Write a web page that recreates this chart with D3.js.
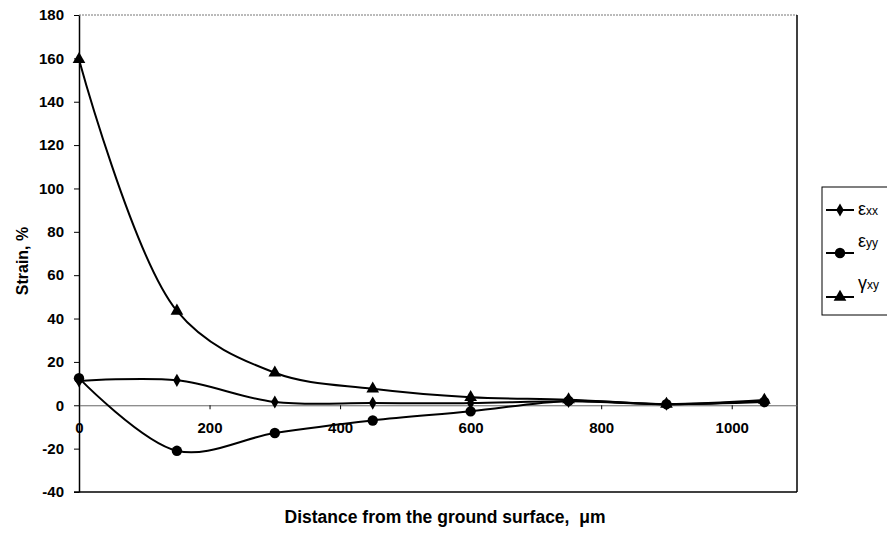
<!DOCTYPE html>
<html>
<head>
<meta charset="utf-8">
<script src="https://cdn.jsdelivr.net/npm/d3@7"></script>
<style>
  body { margin: 0; background: #fff; }
  text { font-family: Arial, "Liberation Sans", sans-serif; }
</style>
</head>
<body>
<svg id="chart"></svg>
<script>
// distances (um) and strains (%)
var distance = [0, 150, 300, 450, 600, 750, 900, 1050];
var exx = [11.2, 11.5, 1.5, 1.0, 1.0, 1.8, 0.5, 2.0];
var eyy = [12.5, -21, -12.8, -7, -2.8, 2.0, 0.5, 1.5];
var gxy = [159.5, 43.5, 15, 7.6, 3.7, 2.6, 0.5, 2.4];
var xTicks = [0, 200, 400, 600, 800, 1000];
var yTicks = [-40, -20, 0, 20, 40, 60, 80, 100, 120, 140, 160, 180];

var width = 887;
var height = 534;
var plotL = 79, plotR = 797, plotT = 15, plotB = 492;

var xs = d3.scaleLinear().domain([0, 1100]).range([plotL, plotR]);
var ys = d3.scaleLinear().domain([-40, 180]).range([plotB, plotT]);

var svg = d3.select('#chart').attr('width', width).attr('height', height);

// plot frame
svg.append('line').attr('x1', plotL).attr('x2', plotR).attr('y1', plotT).attr('y2', plotT)
    .attr('stroke', '#777').attr('stroke-width', 1).attr('stroke-dasharray', '2,1');
svg.append('line').attr('x1', plotR).attr('x2', plotR).attr('y1', plotT).attr('y2', plotB)
    .attr('stroke', '#000').attr('stroke-width', 1.5);
svg.append('line').attr('x1', plotL - 5).attr('x2', plotR).attr('y1', plotB).attr('y2', plotB)
    .attr('stroke', '#000').attr('stroke-width', 1.5);

// y axis
var yAxis = svg.append('g')
    .attr('transform', 'translate(' + plotL + ',0)')
    .call(d3.axisLeft(ys).tickValues(yTicks).tickFormat(function (d) { return String(d); })
        .tickSize(5).tickPadding(10).tickSizeOuter(0));
yAxis.select('.domain').attr('stroke-width', 1.5);
yAxis.selectAll('text').style('font-size', '15px').style('font-weight', 'bold')
    .attr('fill', '#000').attr('font-family', 'Arial, "Liberation Sans", sans-serif');

// x axis on zero line
var xAxis = svg.append('g')
    .attr('transform', 'translate(0,' + ys(0) + ')')
    .call(d3.axisBottom(xs).tickValues(xTicks).tickFormat(d3.format('d'))
        .tickSize(4).tickPadding(13).tickSizeOuter(0));
xAxis.select('.domain').attr('stroke', '#666').attr('stroke-width', 1);
xAxis.selectAll('text').style('font-size', '15px').style('font-weight', 'bold')
    .attr('fill', '#000').attr('font-family', 'Arial, "Liberation Sans", sans-serif');

// axis titles
svg.append('text')
    .attr('text-anchor', 'middle')
    .attr('transform', 'translate(28,261) rotate(-90)')
    .style('font-size', '16px').style('font-weight', 'bold')
    .text('Strain, %');

svg.append('text')
    .attr('text-anchor', 'middle')
    .attr('x', 445)
    .attr('y', 523)
    .style('font-size', '17.5px').style('font-weight', 'bold')
    .text('Distance from the ground surface,\u00a0 \u03bcm');

// series
var series = [
    { name: 'xx', sym: '\u03b5', values: exx, marker: d3.symbolDiamond, size: 50 },
    { name: 'yy', sym: '\u03b5', values: eyy, marker: d3.symbolCircle, size: 85 },
    { name: 'xy', sym: '\u03b3', values: gxy, marker: d3.symbolTriangle, size: 70 }
];

var line = d3.line()
    .x(function (d) { return xs(d[0]); })
    .y(function (d) { return ys(d[1]); })
    .curve(d3.curveCatmullRom.alpha(0.5));

series.forEach(function (s) {
    var pts = distance.map(function (x, i) { return [x, s.values[i]]; });
    svg.append('path')
        .attr('d', line(pts))
        .attr('fill', 'none')
        .attr('stroke', '#000')
        .attr('stroke-width', 2);
    svg.append('g').selectAll('path').data(pts)
        .enter()
        .append('path')
        .attr('d', d3.symbol().type(s.marker).size(s.size))
        .attr('transform', function (d) { return 'translate(' + xs(d[0]) + ',' + ys(d[1]) + ')'; })
        .attr('fill', '#000');
});

// legend
var legend = svg.append('g');
legend.append('rect')
    .attr('x', 822).attr('y', 187).attr('width', 70).attr('height', 128)
    .attr('fill', '#fff').attr('stroke', '#000').attr('stroke-width', 1);

var legendY = [210, 253, 297];
var textY = [215, 247, 289];
series.forEach(function (s, i) {
    legend.append('line')
        .attr('x1', 826).attr('x2', 854).attr('y1', legendY[i]).attr('y2', legendY[i])
        .attr('stroke', '#000').attr('stroke-width', 2);
    legend.append('path')
        .attr('d', d3.symbol().type(s.marker).size(s.size))
        .attr('transform', 'translate(840,' + legendY[i] + ')')
        .attr('fill', '#000');
    var t = legend.append('text')
        .attr('x', 858).attr('y', textY[i]);
    t.append('tspan').style('font-size', '18px').text(s.sym);
    t.append('tspan').style('font-size', '12px').text(s.name);
});
</script>
</body>
</html>
